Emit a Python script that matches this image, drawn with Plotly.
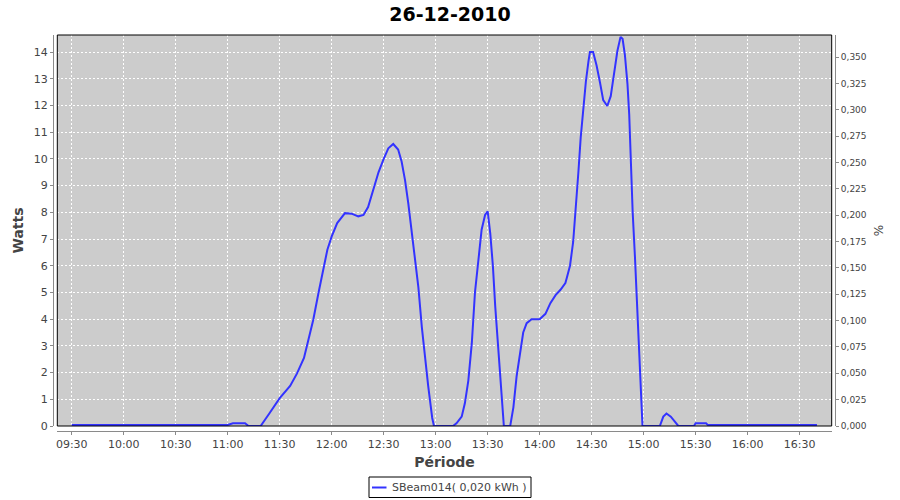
import plotly.graph_objects as go

# ---------------- data ----------------
day = "2010-12-26"
title_text = "26-12-2010"
series_name = "SBeam014"
series_energy = "0,020 kWh"

times = [
    "09:30:00", "11:00:00", "11:03:00", "11:10:00", "11:12:00", "11:19:00",
    "11:24:00", "11:30:00", "11:36:00", "11:40:00", "11:44:00", "11:46:30",
    "11:49:20", "11:52:20", "11:55:10", "11:57:30", "12:00:00", "12:03:10",
    "12:07:40", "12:11:30", "12:15:20", "12:18:20", "12:21:00", "12:24:00",
    "12:27:00", "12:30:00", "12:32:40", "12:35:30", "12:38:20", "12:40:20",
    "12:42:20", "12:44:10", "12:46:10", "12:48:00", "12:50:00", "12:52:00",
    "12:53:50", "12:55:40", "12:58:00", "12:59:00", "13:10:00", "13:12:00",
    "13:15:00", "13:16:50", "13:18:50", "13:20:50", "13:22:40", "13:24:40",
    "13:26:30", "13:28:30", "13:30:00", "13:31:30", "13:33:00", "13:34:20",
    "13:35:40", "13:37:10", "13:38:40", "13:39:20", "13:43:00", "13:44:50",
    "13:46:40", "13:48:40", "13:50:30", "13:52:30", "13:55:20", "14:00:00",
    "14:03:20", "14:06:10", "14:09:10", "14:12:00", "14:14:50", "14:15:40",
    "14:17:30", "14:19:20", "14:21:00", "14:22:20", "14:23:40", "14:25:10",
    "14:26:40", "14:28:10", "14:29:00", "14:30:50", "14:32:50", "14:34:50",
    "14:36:40", "14:39:00", "14:41:00", "14:42:50", "14:44:50", "14:46:40",
    "14:47:50", "14:49:10", "14:50:40", "14:51:40", "14:52:30", "14:53:40",
    "14:55:00", "14:56:20", "14:57:30", "14:58:20", "14:59:20", "15:09:20",
    "15:11:20", "15:13:10", "15:15:40", "15:18:00", "15:20:00", "15:29:00",
    "15:30:00", "15:36:00", "15:37:00", "16:40:00",
]
watts = [
    0.04, 0.04, 0.10, 0.10, 0.0, 0.0,
    0.47, 1.04, 1.50, 1.97, 2.55, 3.20,
    3.97, 4.97, 5.85, 6.60, 7.10, 7.60,
    7.97, 7.95, 7.85, 7.90, 8.20, 8.85,
    9.50, 10.00, 10.40, 10.56, 10.35, 9.90,
    9.20, 8.35, 7.20, 6.20, 5.20, 3.70,
    2.50, 1.50, 0.30, 0.0, 0.0, 0.10,
    0.35, 0.85, 1.70, 3.10, 5.00, 6.20,
    7.35, 7.90, 8.04, 7.20, 6.00, 4.50,
    3.20, 1.70, 0.50, 0.0, 0.0, 0.70,
    1.85, 2.70, 3.50, 3.85, 4.00, 4.00,
    4.20, 4.60, 4.90, 5.10, 5.35, 5.55,
    6.00, 6.90, 8.20, 9.50, 10.80, 12.00,
    12.90, 13.66, 14.00, 14.00, 13.50, 12.85,
    12.20, 11.98, 12.35, 13.16, 14.04, 14.57,
    14.50, 13.90, 12.80, 11.66, 10.00, 8.00,
    6.30, 4.30, 2.50, 1.50, 0.0, 0.0,
    0.35, 0.47, 0.35, 0.16, 0.0, 0.0,
    0.10, 0.10, 0.04, 0.04,
]

x_range = ["09:21:40", "16:48:30"]
x_tick0 = "09:30"
watts_range = [0, 14.64]
pct_range = [0, 0.3709]

# ---------------- geometry (reference pixels) ----------------
W, H = 900, 500
axis_left, axis_right, axis_bottom, plot_top = 53, 835, 431, 35
plot_left, plot_right, plot_bottom = 57.3, 831.7, 426

ML, MT = axis_left, plot_top
MR, MB = W - axis_right, H - axis_bottom
PW, PH = W - ML - MR, H - MT - MB

def px(x):
    return (x - ML) / PW

def py(y):
    return (H - MB - y) / PH

xdom = [px(plot_left), px(plot_right)]
ydom = [py(plot_bottom), 1.0]

font_main = "DejaVu Sans"
axis_grey = "#8a8a8a"
label_grey = "#444444"
line_blue = "#3333FF"

fig = go.Figure()
fig.add_trace(go.Scatter(
    x=[f"{day} {t}" for t in times], y=watts, mode="lines",
    line=dict(color=line_blue, width=2), name=series_name,
    showlegend=False, hoverinfo="skip",
))
fig.add_trace(go.Scatter(x=[], y=[], yaxis="y2", showlegend=False, hoverinfo="skip"))

tickfont = dict(family=font_main, size=11, color=label_grey)
titlefont = dict(family=font_main, size=14, color=label_grey)

fig.update_layout(
    width=W, height=H,
    margin=dict(l=ML, r=MR, t=MT, b=MB, autoexpand=False),
    paper_bgcolor="white", plot_bgcolor="#CCCCCC",
    separators=", ",
    hovermode=False,
    title=dict(text=f"<b>{title_text}</b>", x=0.5, xref="container",
               y=1 - 14 / H, yref="container", yanchor="middle", xanchor="center",
               font=dict(family=font_main, size=19, color="black")),
    xaxis=dict(
        type="date", domain=xdom, anchor="free", position=0,
        range=[f"{day} {x_range[0]}", f"{day} {x_range[1]}"],
        tick0=f"{day} {x_tick0}", dtick=30 * 60 * 1000, tickformat="%H:%M",
        ticks="outside", ticklen=3, tickcolor=axis_grey, tickwidth=1,
        showline=True, linecolor=axis_grey, linewidth=1,
        showgrid=True, gridcolor="white", gridwidth=1, griddash="2px,2px",
        zeroline=False, tickfont=tickfont,
        title=dict(text="<b>Période</b>", font=titlefont, standoff=6),
        automargin=False, fixedrange=True,
    ),
    yaxis=dict(
        domain=ydom, anchor="free", position=0, range=watts_range,
        tick0=0, dtick=1,
        ticks="outside", ticklen=3, tickcolor=axis_grey, tickwidth=1,
        showline=True, linecolor=axis_grey, linewidth=1,
        showgrid=True, gridcolor="white", gridwidth=1, griddash="2px,2px",
        zeroline=False, tickfont=tickfont,
        title=dict(text="<b>Watts</b>", font=titlefont, standoff=5),
        automargin=False, fixedrange=True,
    ),
    yaxis2=dict(
        overlaying="y", side="right", anchor="free", position=1,
        range=pct_range, tick0=0, dtick=0.025, tickformat=".3f",
        ticks="outside", ticklen=3, tickcolor=axis_grey, tickwidth=1,
        showline=True, linecolor=axis_grey, linewidth=1,
        showgrid=False, zeroline=False,
        tickfont=dict(family=font_main, size=9, color=label_grey),
        title=dict(text="%", font=dict(family=font_main, size=12, color=label_grey), standoff=8),
        automargin=False, fixedrange=True,
    ),
)

# plot frame
fig.add_shape(type="rect", xref="x domain", yref="y domain", x0=0, x1=1, y0=0, y1=1,
              line=dict(color="black", width=1), fillcolor="rgba(0,0,0,0)", layer="above")

# legend box (drawn manually to match the compact legend item)
fig.add_shape(type="rect", xref="paper", yref="paper",
              x0=px(369), x1=px(531), y0=py(497.5), y1=py(477),
              line=dict(color="black", width=1), fillcolor="white")
fig.add_shape(type="line", xref="paper", yref="paper",
              x0=px(372), x1=px(386.5), y0=py(487.5), y1=py(487.5),
              line=dict(color=line_blue, width=2))
fig.add_annotation(xref="paper", yref="paper", x=px(390), y=py(487.5),
                   xanchor="left", yanchor="middle", showarrow=False,
                   text=f"{series_name}( {series_energy} )",
                   font=dict(family=font_main, size=11, color=label_grey))

# remove the default 8px page margin so the 900x500 figure fills the window exactly
fig.write_html(
    "out.html",
    config={"displayModeBar": False, "staticPlot": True},
    post_script="document.body.style.margin='0';document.body.style.overflow='hidden';",
)
